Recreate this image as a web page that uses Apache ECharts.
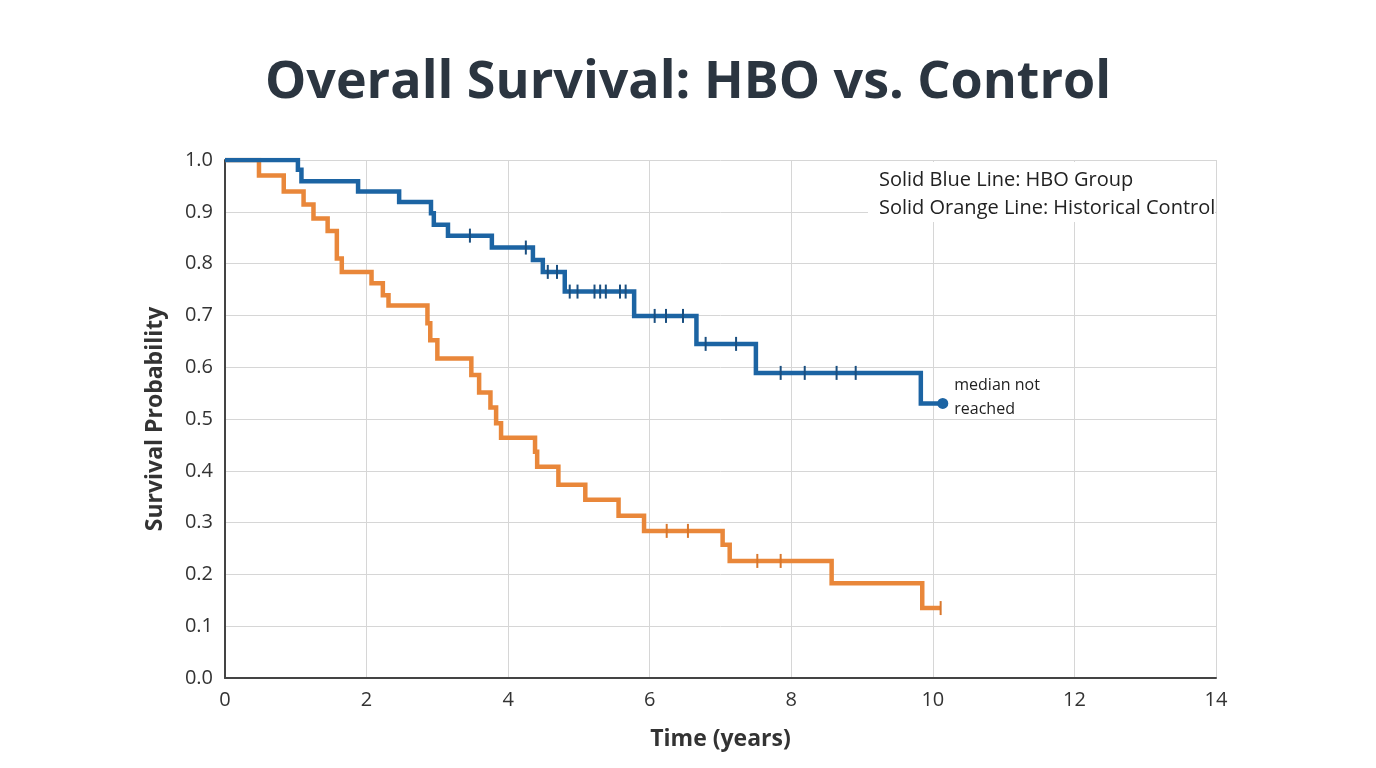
<!DOCTYPE html>
<html>
<head>
    <meta charset="utf-8">
    <script src="https://cdn.jsdelivr.net/npm/echarts@6/dist/echarts.min.js"></script>
    <title>Overall Survival: HBO vs. Control</title>
    <style>
        html, body { margin: 0; padding: 0; background: #fff; }
        #main { width: 1376px; height: 768px; }
    </style>
</head>
<body>
    <div id="main"></div>
    <script type="text/javascript">
    // step points [time, survival]
    var hboTimes = [0, 1.03, 1.08, 1.88, 2.46, 2.91, 2.95, 3.15, 3.77, 4.35, 4.49, 4.80, 5.78, 6.66, 7.50, 9.83, 10.14];
    var hboSurv  = [1.0, 0.981, 0.959, 0.939, 0.919, 0.897, 0.875, 0.854, 0.831, 0.807, 0.784, 0.746, 0.699, 0.645, 0.589, 0.530, 0.530];
    var hboCensor = [3.46, 4.25, 4.56, 4.69, 4.87, 4.98, 5.22, 5.30, 5.38, 5.58, 5.66, 6.07, 6.23, 6.47, 6.79, 7.22, 7.85, 8.19, 8.64, 8.91];

    var ctlTimes = [0, 0.48, 0.83, 1.11, 1.25, 1.45, 1.58, 1.65, 2.07, 2.23, 2.31, 2.86, 2.90, 3.00, 3.48, 3.59, 3.75, 3.83, 3.90, 4.38, 4.41, 4.71, 5.09, 5.56, 5.92, 7.03, 7.13, 8.57, 9.85, 10.11];
    var ctlSurv  = [1.0, 0.970, 0.939, 0.914, 0.887, 0.863, 0.810, 0.784, 0.762, 0.739, 0.719, 0.685, 0.652, 0.617, 0.585, 0.551, 0.522, 0.492, 0.464, 0.437, 0.408, 0.373, 0.344, 0.313, 0.284, 0.257, 0.226, 0.183, 0.135, 0.135];
    var ctlCensor = [6.24, 6.54, 7.52, 7.85, 10.11];

    var blue = '#1c64a3';
    var orange = '#e9873a';

    function pairs(ts, ss) {
        var out = [];
        for (var i = 0; i < ts.length; i++) out.push([ts[i], ss[i]]);
        return out;
    }
    // survival value at time t from the step points
    function survAt(ts, ss, t) {
        var v = ss[0];
        for (var i = 0; i < ts.length; i++) { if (ts[i] <= t) v = ss[i]; }
        return v;
    }
    function censorPts(cs, ts, ss) {
        return cs.map(function (t) { return [t, survAt(ts, ss, t)]; });
    }

    var myChart = echarts.init(document.getElementById('main'));
    var tickFont = { fontFamily: 'Open Sans', fontSize: 20, color: '#333' };

    myChart.setOption({
        animation: false,
        backgroundColor: '#fff',
        title: {
            text: 'Overall Survival: HBO vs. Control',
            left: 'center',
            top: 52,
            textStyle: { fontFamily: 'Open Sans', fontWeight: 'bold', fontSize: 52, color: '#2b3540' }
        },
        grid: { left: 225, right: 160, top: 160, bottom: 90 },
        xAxis: {
            type: 'value', min: 0, max: 14, interval: 2,
            name: 'Time (years)', nameLocation: 'middle', nameGap: 50,
            nameTextStyle: { fontFamily: 'Open Sans', fontWeight: 'bold', fontSize: 23, color: '#333' },
            axisLine: { lineStyle: { color: '#444', width: 2 } },
            axisTick: { show: false },
            axisLabel: Object.assign({ margin: 12 }, tickFont),
            splitLine: { lineStyle: { color: '#d6d6d6', width: 1 } }
        },
        yAxis: {
            type: 'value', min: 0, max: 1, interval: 0.1,
            name: 'Survival Probability', nameLocation: 'middle', nameGap: 58,
            nameTextStyle: { fontFamily: 'Open Sans', fontWeight: 'bold', fontSize: 23, color: '#333' },
            axisLine: { show: true, lineStyle: { color: '#444', width: 2 } },
            axisTick: { show: false },
            axisLabel: Object.assign({ margin: 12, formatter: function (v) { return v.toFixed(1); } }, tickFont),
            splitLine: { lineStyle: { color: '#d6d6d6', width: 1 } }
        },
        graphic: [
            { type: 'rect', left: 868, top: 162, shape: { width: 347, height: 60 }, style: { fill: '#fff' }, z: 5 },
            { type: 'text', left: 879, top: 166, z: 6,
              style: { text: 'Solid Blue Line: HBO Group\nSolid Orange Line: Historical Control',
                       fontFamily: 'Open Sans', fontSize: 20, lineHeight: 28, fill: '#222' } }
        ],
        series: [
            {
                name: 'Historical Control', type: 'line', step: 'end', showSymbol: false,
                data: pairs(ctlTimes, ctlSurv),
                lineStyle: { color: orange, width: 4.5, join: 'miter' }, z: 3
            },
            {
                name: 'HBO Group', type: 'line', step: 'end', showSymbol: false,
                data: pairs(hboTimes, hboSurv),
                lineStyle: { color: blue, width: 4.5, join: 'miter' }, z: 4
            },
            {
                type: 'scatter', data: censorPts(ctlCensor, ctlTimes, ctlSurv),
                symbol: 'rect', symbolSize: [2, 14],
                itemStyle: { color: '#d9772c', opacity: 1 }, z: 5
            },
            {
                type: 'scatter', data: censorPts(hboCensor, hboTimes, hboSurv),
                symbol: 'rect', symbolSize: [2, 14],
                itemStyle: { color: '#1a4f80', opacity: 1 }, z: 6
            },
            {
                type: 'scatter', data: [[hboTimes[hboTimes.length - 1], hboSurv[hboSurv.length - 1]]],
                symbol: 'circle', symbolSize: 11,
                itemStyle: { color: blue, opacity: 1 }, z: 7,
                label: {
                    show: true, position: 'right', distance: 6,
                    formatter: 'median not\nreached',
                    fontFamily: 'Open Sans', fontSize: 16, lineHeight: 24, color: '#222',
                    offset: [0, -6]
                }
            }
        ]
    });
    </script>
</body>
</html>
